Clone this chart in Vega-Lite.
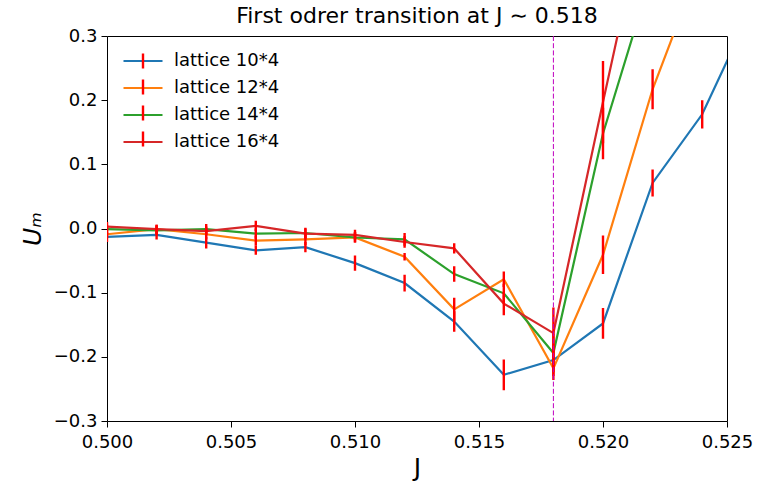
{
  "$schema": "https://vega.github.io/schema/vega-lite/v6.json",
  "width": 620,
  "height": 385,
  "autosize": {"type": "none"},
  "padding": {"left": 107, "top": 36, "right": 40, "bottom": 66},
  "background": "white",
  "title": {
    "text": "First odrer transition at J ∼ 0.518",
    "font": "DejaVu Sans",
    "fontSize": 22,
    "fontWeight": "normal",
    "color": "#000",
    "anchor": "middle",
    "offset": -1
  },
  "config": {
    "font": "DejaVu Sans",
    "view": {"stroke": "#000", "strokeWidth": 1},
    "axis": {
      "domain": false,
      "grid": false,
      "ticks": true,
      "tickColor": "#000",
      "tickSize": 6,
      "tickWidth": 1,
      "labelColor": "#000",
      "labelFont": "DejaVu Sans",
      "labelFontSize": 18,
      "labelFlush": false,
      "labelOverlap": false,
      "titleFont": "DejaVu Sans",
      "titleFontWeight": "normal",
      "titleColor": "#000",
      "titleFontSize": 25
    }
  },
  "data": {
    "values": [
      {"lattice": "lattice 10*4", "J": 0.500, "U": -0.013, "err": 0.008},
      {"lattice": "lattice 10*4", "J": 0.502, "U": -0.010, "err": 0.007},
      {"lattice": "lattice 10*4", "J": 0.504, "U": -0.022, "err": 0.009},
      {"lattice": "lattice 10*4", "J": 0.506, "U": -0.034, "err": 0.007},
      {"lattice": "lattice 10*4", "J": 0.508, "U": -0.029, "err": 0.008},
      {"lattice": "lattice 10*4", "J": 0.510, "U": -0.054, "err": 0.012},
      {"lattice": "lattice 10*4", "J": 0.512, "U": -0.085, "err": 0.013},
      {"lattice": "lattice 10*4", "J": 0.514, "U": -0.145, "err": 0.016},
      {"lattice": "lattice 10*4", "J": 0.516, "U": -0.228, "err": 0.024},
      {"lattice": "lattice 10*4", "J": 0.518, "U": -0.205, "err": 0.025},
      {"lattice": "lattice 10*4", "J": 0.520, "U": -0.148, "err": 0.024},
      {"lattice": "lattice 10*4", "J": 0.522, "U": 0.071, "err": 0.021},
      {"lattice": "lattice 10*4", "J": 0.524, "U": 0.178, "err": 0.022},
      {"lattice": "lattice 10*4", "J": 0.526, "U": 0.344, "err": 0.020},
      {"lattice": "lattice 12*4", "J": 0.500, "U": -0.009, "err": 0.006},
      {"lattice": "lattice 12*4", "J": 0.502, "U": -0.001, "err": 0.007},
      {"lattice": "lattice 12*4", "J": 0.504, "U": -0.009, "err": 0.008},
      {"lattice": "lattice 12*4", "J": 0.506, "U": -0.019, "err": 0.008},
      {"lattice": "lattice 12*4", "J": 0.508, "U": -0.017, "err": 0.009},
      {"lattice": "lattice 12*4", "J": 0.510, "U": -0.014, "err": 0.008},
      {"lattice": "lattice 12*4", "J": 0.512, "U": -0.044, "err": 0.006},
      {"lattice": "lattice 12*4", "J": 0.514, "U": -0.126, "err": 0.018},
      {"lattice": "lattice 12*4", "J": 0.516, "U": -0.079, "err": 0.012},
      {"lattice": "lattice 12*4", "J": 0.518, "U": -0.218, "err": 0.018},
      {"lattice": "lattice 12*4", "J": 0.520, "U": -0.041, "err": 0.030},
      {"lattice": "lattice 12*4", "J": 0.522, "U": 0.217, "err": 0.031},
      {"lattice": "lattice 12*4", "J": 0.524, "U": 0.420, "err": 0.030},
      {"lattice": "lattice 14*4", "J": 0.500, "U": -0.001, "err": 0.007},
      {"lattice": "lattice 14*4", "J": 0.502, "U": -0.003, "err": 0.007},
      {"lattice": "lattice 14*4", "J": 0.504, "U": -0.001, "err": 0.008},
      {"lattice": "lattice 14*4", "J": 0.506, "U": -0.008, "err": 0.008},
      {"lattice": "lattice 14*4", "J": 0.508, "U": -0.007, "err": 0.008},
      {"lattice": "lattice 14*4", "J": 0.510, "U": -0.014, "err": 0.008},
      {"lattice": "lattice 14*4", "J": 0.512, "U": -0.017, "err": 0.010},
      {"lattice": "lattice 14*4", "J": 0.514, "U": -0.071, "err": 0.012},
      {"lattice": "lattice 14*4", "J": 0.516, "U": -0.101, "err": 0.015},
      {"lattice": "lattice 14*4", "J": 0.518, "U": -0.194, "err": 0.030},
      {"lattice": "lattice 14*4", "J": 0.520, "U": 0.148, "err": 0.040},
      {"lattice": "lattice 14*4", "J": 0.522, "U": 0.401, "err": 0.040},
      {"lattice": "lattice 16*4", "J": 0.500, "U": 0.003, "err": 0.007},
      {"lattice": "lattice 16*4", "J": 0.502, "U": -0.001, "err": 0.007},
      {"lattice": "lattice 16*4", "J": 0.504, "U": -0.004, "err": 0.007},
      {"lattice": "lattice 16*4", "J": 0.506, "U": 0.004, "err": 0.008},
      {"lattice": "lattice 16*4", "J": 0.508, "U": -0.008, "err": 0.008},
      {"lattice": "lattice 16*4", "J": 0.510, "U": -0.010, "err": 0.008},
      {"lattice": "lattice 16*4", "J": 0.512, "U": -0.021, "err": 0.009},
      {"lattice": "lattice 16*4", "J": 0.514, "U": -0.031, "err": 0.008},
      {"lattice": "lattice 16*4", "J": 0.516, "U": -0.117, "err": 0.018},
      {"lattice": "lattice 16*4", "J": 0.518, "U": -0.163, "err": 0.040},
      {"lattice": "lattice 16*4", "J": 0.520, "U": 0.197, "err": 0.064},
      {"lattice": "lattice 16*4", "J": 0.522, "U": 0.550, "err": 0.060}
    ]
  },
  "layer": [
    {
      "mark": {"type": "line", "strokeWidth": 2.2, "clip": true},
      "encoding": {
        "x": {
          "field": "J",
          "type": "quantitative",
          "scale": {"domain": [0.5, 0.525], "nice": false, "zero": false},
          "axis": {
            "values": [0.5, 0.505, 0.51, 0.515, 0.52, 0.525],
            "format": ".3f",
            "labelPadding": 6,
            "title": "J",
            "titlePadding": 4
          }
        },
        "y": {
          "field": "U",
          "type": "quantitative",
          "scale": {"domain": [-0.3, 0.3], "nice": false, "zero": false},
          "axis": {
            "values": [-0.3, -0.2, -0.1, 0, 0.1, 0.2, 0.3],
            "format": ".1f",
            "labelPadding": 4,
            "title": "Uₘ",
            "titleFontStyle": "italic",
            "titlePadding": 8
          }
        },
        "color": {
          "field": "lattice",
          "type": "nominal",
          "scale": {"range": ["#1f77b4", "#ff7f0e", "#2ca02c", "#d62728"]},
          "legend": {
            "orient": "none",
            "legendX": 27,
            "legendY": 16,
            "title": null,
            "padding": 0,
            "symbolType": "M-2.6,0H2.6",
            "symbolSize": 225,
            "symbolStrokeWidth": 2.2,
            "labelFontSize": 18,
            "labelColor": "#000",
            "labelOffset": 22,
            "rowPadding": 9
          }
        }
      }
    },
    {
      "transform": [
        {"calculate": "datum.U - datum.err", "as": "lo"},
        {"calculate": "datum.U + datum.err", "as": "hi"}
      ],
      "mark": {"type": "rule", "color": "#ff0000", "strokeWidth": 2.4, "clip": true},
      "encoding": {
        "x": {"field": "J", "type": "quantitative"},
        "y": {"field": "lo", "type": "quantitative"},
        "y2": {"field": "hi"},
        "strokeDash": {
          "field": "lattice",
          "type": "nominal",
          "scale": {
            "domain": ["lattice 10*4", "lattice 12*4", "lattice 14*4", "lattice 16*4"],
            "range": [[1, 0], [1, 0], [1, 0], [1, 0]]
          },
          "legend": {
            "orient": "none",
            "legendX": 27,
            "legendY": 16,
            "zindex": 2,
            "title": null,
            "padding": 0,
            "symbolType": "M0,-1V1",
            "symbolSize": 225,
            "symbolStrokeColor": "#ff0000",
            "symbolStrokeWidth": 2.4,
            "labelFontSize": 18,
            "labelExpr": "''",
            "labelOffset": 22,
            "rowPadding": 0
          }
        }
      }
    },
    {
      "data": {"values": [{"J": 0.518}]},
      "mark": {"type": "rule", "color": "#bf00bf", "strokeWidth": 1, "strokeDash": [5, 2.2]},
      "encoding": {
        "x": {"field": "J", "type": "quantitative"}
      }
    }
  ]
}
